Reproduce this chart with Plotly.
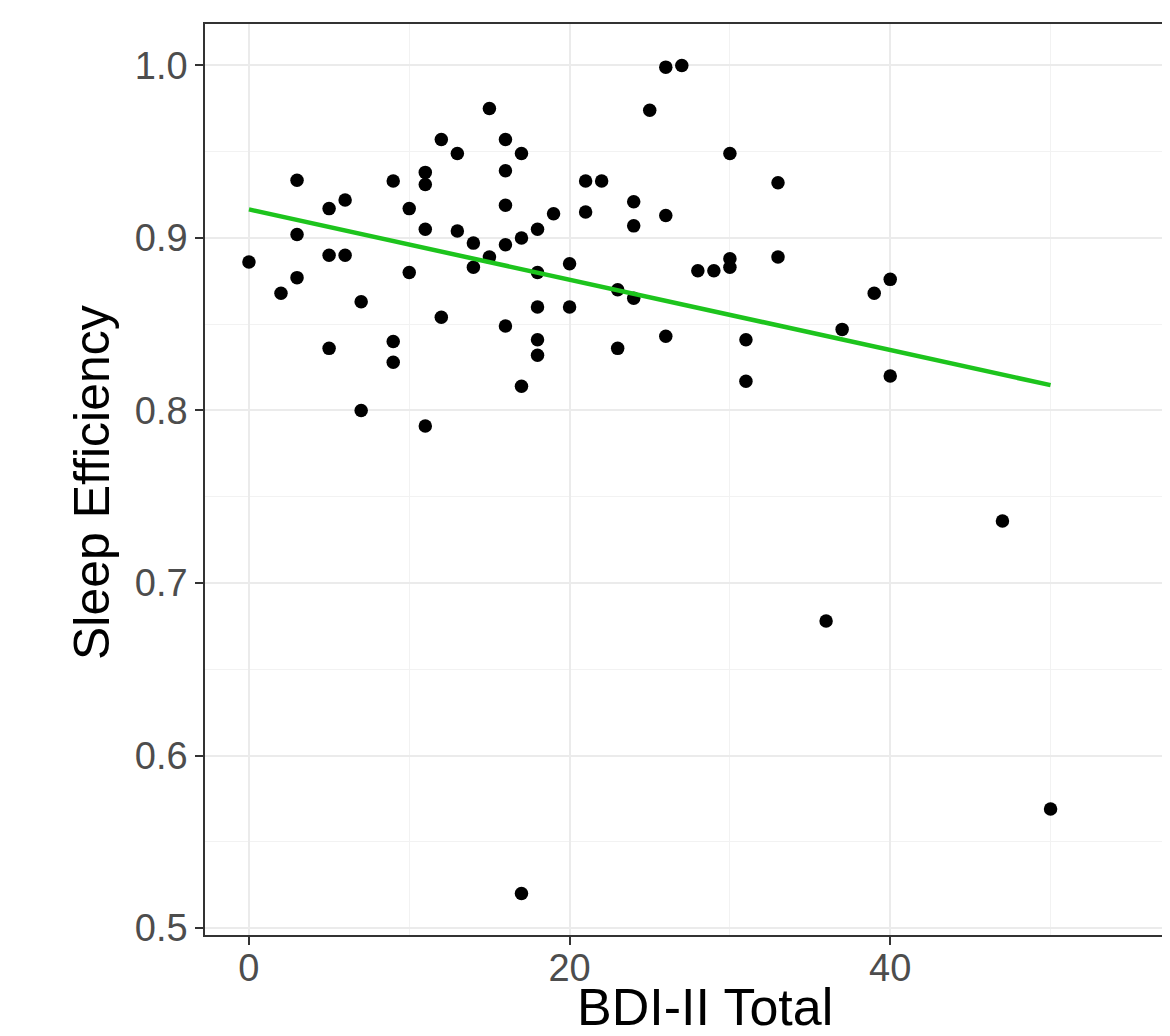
import numpy as np
import plotly.graph_objects as go

# BDI-II total scores and sleep efficiency values
bdi_total = [0, 2, 3, 3, 3, 5, 5, 5, 6, 6, 7, 7, 9, 9, 9, 10, 10, 11, 11, 11, 11,
             12, 12, 13, 13, 14, 14, 15, 15, 16, 16, 16, 16, 16, 17, 17, 17, 17,
             18, 18, 18, 18, 18, 19, 20, 20, 21, 21, 22, 23, 23, 24, 24, 24, 25,
             26, 26, 26, 27, 28, 29, 30, 30, 30, 31, 31, 33, 33, 37, 36, 39, 40,
             40, 47, 50]
sleep_eff = [0.886, 0.868, 0.9335, 0.902, 0.877, 0.917, 0.890, 0.836, 0.922, 0.890,
             0.863, 0.800, 0.933, 0.840, 0.828, 0.917, 0.880, 0.938, 0.931, 0.905,
             0.791, 0.957, 0.854, 0.949, 0.904, 0.897, 0.883, 0.975, 0.889, 0.957,
             0.939, 0.919, 0.896, 0.849, 0.949, 0.900, 0.814, 0.520, 0.905, 0.880,
             0.860, 0.841, 0.832, 0.914, 0.885, 0.860, 0.933, 0.915, 0.933, 0.870,
             0.836, 0.921, 0.907, 0.865, 0.974, 0.999, 0.913, 0.843, 1.000, 0.881,
             0.881, 0.949, 0.888, 0.883, 0.841, 0.817, 0.932, 0.889, 0.847, 0.678,
             0.868, 0.876, 0.820, 0.736, 0.569]

x_ticks = [0, 20, 40]
y_ticks = [0.5, 0.6, 0.7, 0.8, 0.9, 1.0]
y_tick_labels = ["0.5", "0.6", "0.7", "0.8", "0.9", "1.0"]

# linear fit (geom_smooth method = lm, se = FALSE)
xa = np.array(bdi_total, dtype=float)
ya = np.array(sleep_eff, dtype=float)
slope, intercept = np.polyfit(xa, ya, 1)
fit_x = np.array([xa.min(), xa.max()])
fit_y = intercept + slope * fit_x

fig = go.Figure()
fig.add_trace(go.Scatter(
    x=bdi_total, y=sleep_eff, mode="markers",
    marker=dict(color="black", size=13.5, line=dict(width=0)),
    showlegend=False, hoverinfo="x+y"))
fig.add_trace(go.Scatter(
    x=fit_x, y=fit_y, mode="lines",
    line=dict(color="#1DC41D", width=4.5),
    showlegend=False))

FONT = "Liberation Sans, Arial, sans-serif"

# page has an 8px body margin; the figure is sized so the panel sits at
# page pixels x 205..1170, y 24..935
fig.update_layout(
    width=1162, height=1028,
    margin=dict(l=197, r=0, t=16, b=101),
    paper_bgcolor="white", plot_bgcolor="white",
    font=dict(family=FONT),
    xaxis=dict(
        range=[-2.74, 57.45], tickvals=x_ticks,
        ticktext=[str(v) for v in x_ticks],
        showgrid=True, gridcolor="#EBEBEB", gridwidth=2,
        minor=dict(dtick=10, tick0=0, showgrid=True, gridcolor="#F2F2F2", gridwidth=1),
        zeroline=False, showline=True, linecolor="#333333", linewidth=1.5,
        mirror=True, ticks="outside", ticklen=8, tickcolor="#333333", tickwidth=1.5,
        ticklabelstandoff=-9,
        tickfont=dict(size=38, color="#4D4D4D", family=FONT),
    ),
    yaxis=dict(
        range=[0.496, 1.024], tickvals=y_ticks, ticktext=y_tick_labels,
        showgrid=True, gridcolor="#EBEBEB", gridwidth=2,
        minor=dict(dtick=0.05, tick0=0.5, showgrid=True, gridcolor="#F2F2F2", gridwidth=1),
        zeroline=False, showline=True, linecolor="#333333", linewidth=1.5,
        mirror=False, ticks="outside", ticklen=8, tickcolor="#333333", tickwidth=1.5,
        tickfont=dict(size=38, color="#4D4D4D", family=FONT),
    ),
    annotations=[
        dict(text="BDI-II Total", xref="paper", yref="paper",
             x=(705 - 205) / 965, y=-(1007 - 935) / 911,
             xanchor="center", yanchor="middle", showarrow=False,
             font=dict(size=52, color="black", family=FONT)),
        dict(text="Sleep Efficiency", xref="paper", yref="paper",
             x=-(205 - 92) / 965, y=(935 - 483) / 911, textangle=-90,
             xanchor="center", yanchor="middle", showarrow=False,
             font=dict(size=50, color="black", family=FONT)),
    ],
)

fig.write_html("out.html")
